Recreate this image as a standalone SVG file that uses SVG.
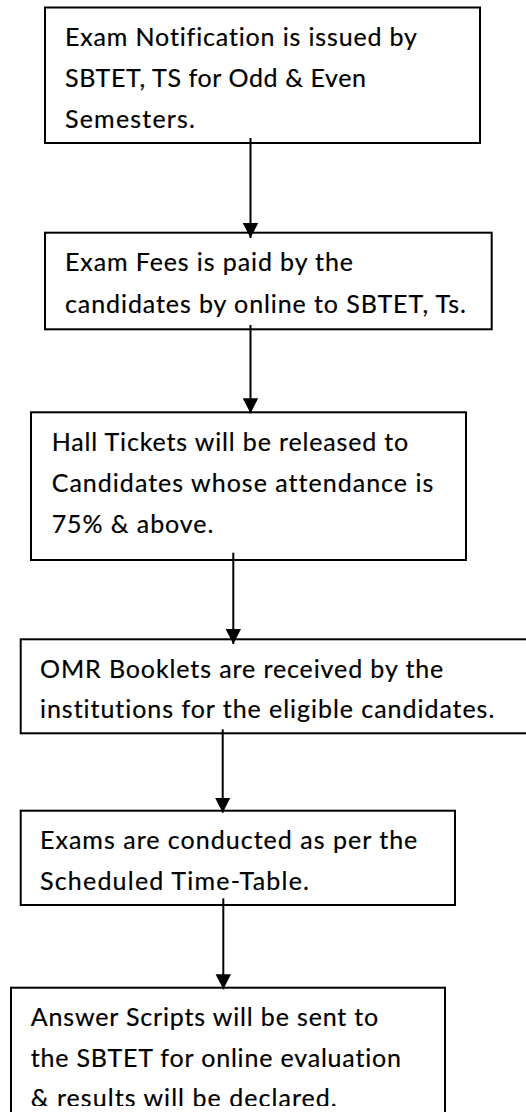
<svg xmlns="http://www.w3.org/2000/svg" width="526" height="1112" viewBox="0 0 526 1112">
<style>
.box{fill:#fff;stroke:#000;stroke-width:2}
.t{font-family:Lato,"Open Sans","Liberation Sans",sans-serif;font-size:25px;fill:#000;stroke:#000;stroke-width:0.2;font-variant-ligatures:none;font-feature-settings:"liga" 0,"clig" 0}
.c{stroke:#000;stroke-width:2;fill:none}
</style>
<defs>
<marker id="ah" markerUnits="userSpaceOnUse" markerWidth="16" markerHeight="16" viewBox="0 0 16 16" refX="15" refY="8" orient="auto">
<path d="M0,0.3 L15,8 L0,15.7 z" fill="#000"/>
</marker>
<clipPath id="clip4"><rect x="0" y="630" width="526" height="92"/></clipPath>
<clipPath id="clip6"><rect x="0" y="990" width="526" height="116"/></clipPath>
</defs>
<rect width="526" height="1112" fill="#fff"/>
<g id="n1">
<rect class="box" x="45" y="7.5" width="435" height="135.5"/>
<text class="t" x="65" y="45.7" textLength="352">Exam Notification is issued by</text>
<text class="t" x="65" y="87.3" textLength="301">SBTET, TS for Odd &amp; Even</text>
<text class="t" x="65" y="128.3" textLength="130">Semesters.</text>
</g>
<g id="n2">
<rect class="box" x="45" y="232.7" width="446.7" height="96.6"/>
<text class="t" x="65" y="270.7" textLength="288">Exam Fees is paid by the</text>
<text class="t" x="65" y="313.3" textLength="401">candidates by online to SBTET, Ts.</text>
</g>
<g id="n3">
<rect class="box" x="31" y="412.3" width="435" height="147.7"/>
<text class="t" x="51.7" y="451" textLength="356.6">Hall Tickets will be released to</text>
<text class="t" x="51.7" y="491.7" textLength="381.6">Candidates whose attendance is</text>
<text class="t" x="51.7" y="533.3" textLength="161.6">75% &amp; above.</text>
</g>
<g id="n4">
<rect class="box" x="20.7" y="639.3" width="520" height="94"/>
<g clip-path="url(#clip4)">
<text class="t" x="40" y="677.7" textLength="403.3">OMR Booklets are received by the</text>
<text class="t" x="40" y="718.3" textLength="454.3">institutions for the eligible candidates.</text>
</g>
</g>
<g id="n5">
<rect class="box" x="20.7" y="810.7" width="434.3" height="94.3"/>
<text class="t" x="40" y="849.3" textLength="377.3">Exams are conducted as per the</text>
<text class="t" x="40" y="890" textLength="269">Scheduled Time-Table.</text>
</g>
<g id="n6">
<rect class="box" x="11" y="987.7" width="434" height="140"/>
<g clip-path="url(#clip6)">
<text class="t" x="30.7" y="1026" textLength="347.6">Answer Scripts will be sent to</text>
<text class="t" x="30.7" y="1066.7" textLength="370.3">the SBTET for online evaluation</text>
<text class="t" x="30.7" y="1107" textLength="306">&amp; results will be declared.</text>
</g>
</g>
<g id="connectors">
<line class="c" x1="250.5" y1="138" x2="250.5" y2="238" marker-end="url(#ah)"/>
<line class="c" x1="250.5" y1="325" x2="250.5" y2="413.3" marker-end="url(#ah)"/>
<line class="c" x1="233.3" y1="552.7" x2="233.3" y2="644" marker-end="url(#ah)"/>
<line class="c" x1="222.7" y1="729.3" x2="222.7" y2="812.7" marker-end="url(#ah)"/>
<line class="c" x1="223.3" y1="898.3" x2="223.3" y2="989.3" marker-end="url(#ah)"/>
</g>
</svg>
